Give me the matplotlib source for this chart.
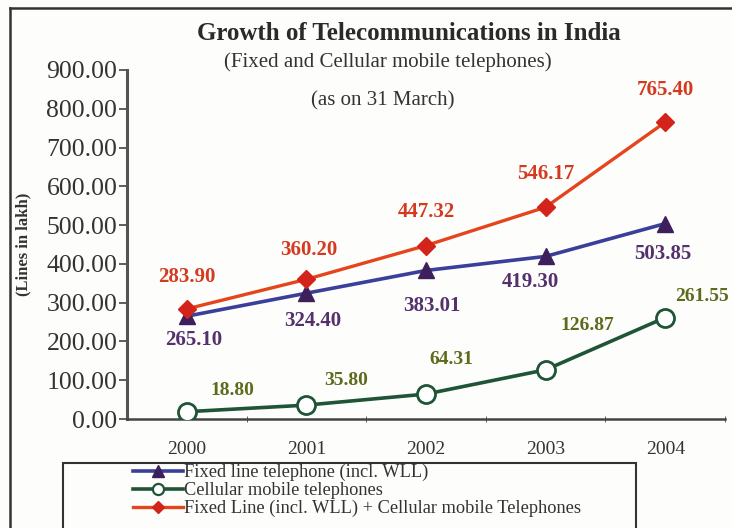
import matplotlib
matplotlib.use('Agg')
import matplotlib.pyplot as plt
from matplotlib.patches import Rectangle
from matplotlib.lines import Line2D

# Lines in lakh, as on 31 March
years = ['2000', '2001', '2002', '2003', '2004']
fixed_line = [265.10, 324.40, 383.01, 419.30, 503.85]
cellular = [18.80, 35.80, 64.31, 126.87, 261.55]
combined = [283.90, 360.20, 447.32, 546.17, 765.40]
y_ticks = [0, 100, 200, 300, 400, 500, 600, 700, 800, 900]

SERIF = 'Liberation Serif'
plt.rcParams['font.family'] = SERIF

W, H = 732, 528
fig = plt.figure(figsize=(W / 100, H / 100), dpi=100)
fig.patch.set_facecolor('#fdfdfb')

ax = fig.add_axes([127 / W, 1 - 419 / H, (725 - 127) / W, (419 - 70) / H])
ax.set_facecolor('none')

x = range(len(years))
c_fixed_line, c_fixed_mark, c_fixed_txt = '#3a3f9a', '#3d1f5c', '#55306e'
c_cell_line, c_cell_txt = '#1f5536', '#5c6b1c'
c_comb_line, c_comb_mark, c_comb_txt = '#e5451c', '#d3231a', '#d43a20'

ax.plot(x, fixed_line, color=c_fixed_line, lw=2.6, marker='^', ms=12,
        mfc=c_fixed_mark, mec=c_fixed_mark, zorder=3)
ax.plot(x, cellular, color=c_cell_line, lw=2.6, marker='o', ms=13,
        mfc='white', mec=c_cell_line, mew=2, zorder=3)
ax.plot(x, combined, color=c_comb_line, lw=2.4, marker='D', ms=9,
        mfc=c_comb_mark, mec=c_comb_mark, zorder=4)

ax.set_xlim(-0.5, 4.5)
ax.set_ylim(0, 900)
ax.set_yticks(y_ticks)
ax.set_yticklabels([f'{v:.2f}' for v in y_ticks], fontsize=18.5, color='#333333')
ax.set_xticks(list(x))
ax.set_xticklabels(years, fontsize=14, color='#333333')
ax.set_xticks([i + 0.5 for i in range(len(years))], minor=True)
ax.tick_params(axis='x', which='major', length=0, pad=16)
ax.tick_params(axis='x', which='minor', length=5, direction='inout', color='#444444')
ax.tick_params(axis='y', length=6, width=1.2, color='#444444', pad=1)

for side in ['top', 'right']:
    ax.spines[side].set_visible(False)
ax.spines['left'].set_linewidth(2.2)
ax.spines['left'].set_color('#555555')
ax.spines['bottom'].set_linewidth(1.8)
ax.spines['bottom'].set_color('#444444')

ax.set_ylabel('(Lines in lakh)', fontsize=12, fontweight='bold', color='#333333', labelpad=0)
ax.yaxis.set_label_coords(-0.16, 0.5)

# value labels, offsets in pixels from each marker
comb_off = [(0, 32), (2, 29), (0, 34), (0, 33), (0, 32)]
fixed_off = [(7, -24), (6, -28), (6, -36), (-15, -26), (-2, -30)]
cell_off = [(46, 21), (40, 25), (25, 35), (42, 44), (37, 21)]

for i in x:
    ax.annotate(f'{combined[i]:.2f}', (i, combined[i]), xytext=comb_off[i],
                textcoords='offset pixels', ha='center', va='center',
                fontsize=15, fontweight='bold', color=c_comb_txt)
    ax.annotate(f'{fixed_line[i]:.2f}', (i, fixed_line[i]), xytext=fixed_off[i],
                textcoords='offset pixels', ha='center', va='center',
                fontsize=15, fontweight='bold', color=c_fixed_txt)
    ax.annotate(f'{cellular[i]:.2f}', (i, cellular[i]), xytext=cell_off[i],
                textcoords='offset pixels', ha='center', va='center',
                fontsize=14, fontweight='bold', color=c_cell_txt, annotation_clip=False)

# titles
fig.text(409 / W, 1 - 33 / H, 'Growth of Telecommunications in India',
         ha='center', va='center', fontsize=18, fontweight='bold', color='#2a2a2a')
fig.text(388 / W, 1 - 62 / H, '(Fixed and Cellular mobile telephones)',
         ha='center', va='center', fontsize=15, color='#333333')
fig.text(383 / W, 1 - 101 / H, '(as on 31 March)',
         ha='center', va='center', fontsize=15, color='#333333')

# outer frame
fig.add_artist(Line2D([10 / W, 10 / W], [0, 1 - 8 / H], transform=fig.transFigure,
                      color='#333333', lw=1.8))
fig.add_artist(Line2D([10 / W, 1], [1 - 8 / H, 1 - 8 / H], transform=fig.transFigure,
                      color='#333333', lw=1.8))

# legend box
fig.add_artist(Rectangle((63 / W, -0.02), (636 - 63) / W, 0.02 + (528 - 463) / H,
                         transform=fig.transFigure, fill=False, ec='#333333', lw=1.5))
handles = [
    Line2D([], [], color=c_fixed_line, lw=2.6, marker='^', ms=8, mfc=c_fixed_mark, mec=c_fixed_mark),
    Line2D([], [], color=c_cell_line, lw=2.6, marker='o', ms=8, mfc='white', mec=c_cell_line, mew=1.6),
    Line2D([], [], color=c_comb_line, lw=2.4, marker='D', ms=6, mfc=c_comb_mark, mec=c_comb_mark),
]
labels = ['Fixed line telephone (incl. WLL)',
          'Cellular mobile telephones',
          'Fixed Line (incl. WLL) + Cellular mobile Telephones']
fig.legend(handles, labels, loc='upper left', bbox_to_anchor=(133 / W, 1 - 464 / H),
           frameon=False, fontsize=13.2, handlelength=2.7, handletextpad=0.1,
           labelspacing=0.05, borderpad=0, borderaxespad=0, labelcolor='#333333')

fig.savefig('out.png', dpi=100, facecolor=fig.get_facecolor())
